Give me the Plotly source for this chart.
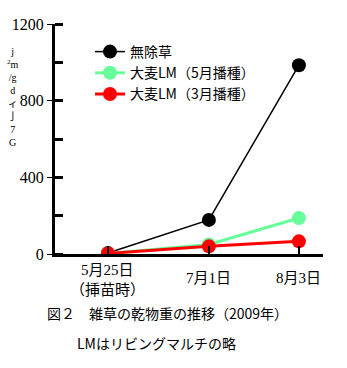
import plotly.graph_objects as go

# Sampling dates and dry-weight values (g/m2)
dates = ["2009-05-25", "2009-07-01", "2009-08-03"]
date_labels = [["5月25日", "（挿苗時）"], ["7月1日"], ["8月3日"]]
series_names = ["無除草", "大麦LM（5月播種）", "大麦LM（3月播種）"]
no_weeding = [5, 178, 985]
barley_may = [3, 50, 188]
barley_mar = [3, 40, 66]
series_colors = ["#000000", "#66ff99", "#ff0000"]
line_widths = [1.5, 3, 3]

y_ticks = [0, 400, 800, 1200]
y_title_glyphs = ["j", "<sup>2</sup>m", "/g", "d", "ィ", "亅", "7", "G"]

fig = go.Figure()
for name, vals, col, lw in zip(series_names, [no_weeding, barley_may, barley_mar],
                               series_colors, line_widths):
    fig.add_trace(go.Scatter(
        x=dates, y=vals, name=name, mode="lines+markers",
        line=dict(color=col, width=lw),
        marker=dict(color=col, size=14),
    ))

num_font = "Liberation Serif, Noto Sans CJK JP"
jp_font = "Noto Sans CJK JP"

# Date labels under the x axis
label_y = {0: [-0.0696, -0.1565], 1: [-0.1043], 2: [-0.1043]}
annotations = []
for i, d in enumerate(dates):
    for line, yy in zip(date_labels[i], label_y[i]):
        annotations.append(dict(
            x=d, y=yy, xref="x", yref="paper", text=line, showarrow=False,
            xanchor="center", yanchor="middle",
            font=dict(family=num_font, size=15, color="black"),
        ))

# Vertical axis title, one glyph per line
annotations.append(dict(
    x=(13 - 55) / 268, y=(254 - 97) / 230, xref="paper", yref="paper",
    text="<br>".join(y_title_glyphs), showarrow=False,
    xanchor="center", yanchor="middle", align="center",
    font=dict(family=num_font, size=10, color="black"),
))

# Figure caption
annotations.append(dict(
    x=(45 - 55) / 268, y=(254 - 313) / 230, xref="paper", yref="paper",
    text="図２　雑草の乾物重の推移（2009年）", showarrow=False,
    xanchor="left", yanchor="middle",
    font=dict(family=jp_font, size=14, color="black"),
))
annotations.append(dict(
    x=(75 - 55) / 268, y=(254 - 343) / 230, xref="paper", yref="paper",
    text="LMはリビングマルチの略", showarrow=False,
    xanchor="left", yanchor="middle",
    font=dict(family=jp_font, size=14, color="black"),
))

fig.update_layout(
    width=347, height=368,
    margin=dict(l=55, r=24, t=24, b=114),
    paper_bgcolor="white", plot_bgcolor="white",
    showlegend=True,
    legend=dict(
        x=(90 - 55) / 268, y=(254 - 36) / 230, xanchor="left", yanchor="top",
        bgcolor="rgba(0,0,0,0)", font=dict(family=jp_font, size=14, color="black"),
        tracegroupgap=0,
    ),
    annotations=annotations,
    xaxis=dict(
        type="date",
        range=["2009-05-05 14:00", "2009-08-11 20:00"],
        tickvals=dates, showticklabels=False,
        ticks="inside", ticklen=8, tickwidth=2, tickcolor="black",
        showline=True, linecolor="black", linewidth=3,
        showgrid=False, zeroline=False,
    ),
    yaxis=dict(
        range=[0, 1200], tickvals=y_ticks,
        ticks="outside", ticklen=5, tickwidth=1, tickcolor="black",
        minor=dict(dtick=200, ticks="inside", ticklen=8, tickwidth=3, tickcolor="black"),
        tickfont=dict(family=num_font, size=16, color="black"),
        showline=True, linecolor="black", linewidth=3,
        showgrid=False, zeroline=False,
    ),
    shapes=[dict(
        type="line", xref="x domain", yref="y",
        x0=0, x1=0.03, y0=1200, y1=1200,
        line=dict(color="black", width=3),
    )],
)

fig.write_html("out.html")
